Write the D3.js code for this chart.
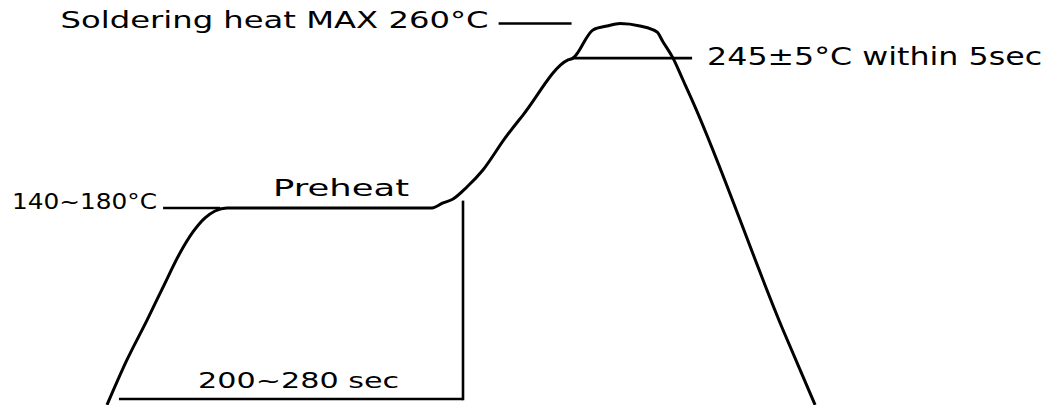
<!DOCTYPE html>
<html>
<head>
<meta charset="utf-8">
<script src="https://cdn.jsdelivr.net/npm/d3@7"></script>
<style>
  html, body { margin: 0; padding: 0; background: #fff; }
  svg { display: block; }
  text { font-family: "DejaVu Sans", "Liberation Sans", sans-serif; fill: #000; }
</style>
</head>
<body>
<div id="chart"></div>
<script>
// Reflow profile curve: time (sec, schematic) and temperature (°C, schematic)
const profileTime = [0, 11.2, 22.5, 31.5, 41.0, 48.3, 55.1, 60.7, 67.4,
  182.6, 188.8, 194.4, 202.2, 211.2, 223.6, 233.7, 259.0, 261.8, 273.0, 280.9, 288.2,
  299.4, 309.0, 312.4, 318.0, 323.6, 328.7, 379.8, 397.8];
const profileTemp = [94.6, 114.1, 131.4, 145.7, 160.5, 169.6, 175.7, 178.7, 180,
  180, 182.2, 183.9, 189.1, 196.5, 210.3, 220.3, 244.2, 245, 257.2, 258.9, 260,
  258.9, 256.3, 252.0, 245, 235.5, 226.8, 127.1, 94.6];

// Annotation lines
const maxLine = { temp: 260, t0: 220, t1: 261 };
const peakLine = { temp: 245, t0: 261.2, t1: 328.7 };
const preheatLine = { temp: 180, t0: 31.5, t1: 63.5 };
const durationBase = { temp: 97.2, t0: 6.7, t1: 200 };
const durationEnd = { time: 200, tempTop: 183.2, tempBottom: 97.2 };

// Labels
const labelMax = "Soldering heat MAX 260°C";
const labelPeak = "245±5°C within 5sec";
const labelPreheatTemp = "140~180°C";
const labelPreheat = "Preheat";
const labelDuration = "200~280 sec";
const preheatLabelTime = 93.3;
const durationLabelTime = 51.2;

const W = 1045, H = 405;
const svg = d3.select("#chart").append("svg").attr("width", W).attr("height", H);

const x = d3.scaleLinear().domain([0, 200]).range([107, 463]);
const y = d3.scaleLinear().domain([180, 260]).range([208, 23.5]);

const pts = profileTime.map((t, i) => [t, profileTemp[i]]);
const line = d3.line().x(d => x(d[0])).y(d => y(d[1])).curve(d3.curveMonotoneX);

svg.append("path").datum(pts).attr("d", line)
  .attr("fill", "none").attr("stroke", "#000").attr("stroke-width", 3)
  .attr("stroke-linejoin", "round");

function hline(o) {
  svg.append("line").attr("x1", x(o.t0)).attr("x2", x(o.t1))
    .attr("y1", y(o.temp)).attr("y2", y(o.temp))
    .attr("stroke", "#000").attr("stroke-width", 2.6);
}
hline(maxLine);
hline(peakLine);
hline(preheatLine);
hline(durationBase);
svg.append("line").attr("x1", x(durationEnd.time)).attr("x2", x(durationEnd.time))
  .attr("y1", y(durationEnd.tempTop)).attr("y2", y(durationEnd.tempBottom) + 1.3)
  .attr("stroke", "#000").attr("stroke-width", 2.6);

function label(txt, xp, yp, anchor, size, len) {
  svg.append("text").attr("x", xp).attr("y", yp)
    .attr("text-anchor", anchor).attr("font-size", size)
    .attr("textLength", len).attr("lengthAdjust", "spacingAndGlyphs")
    .text(txt);
}
label(labelMax, x(maxLine.t0) - 438, y(maxLine.temp) + 4, "start", 23, 428);
label(labelPeak, x(peakLine.t1) + 15, y(peakLine.temp) + 7, "start", 24, 335);
label(labelPreheatTemp, x(preheatLine.t0) - 151, y(preheatLine.temp) + 1, "start", 21, 145);
label(labelPreheat, x(preheatLabelTime), y(preheatLine.temp) - 12, "start", 23, 136);
label(labelDuration, x(durationLabelTime), y(durationBase.temp) - 11, "start", 22, 201);
</script>
</body>
</html>
